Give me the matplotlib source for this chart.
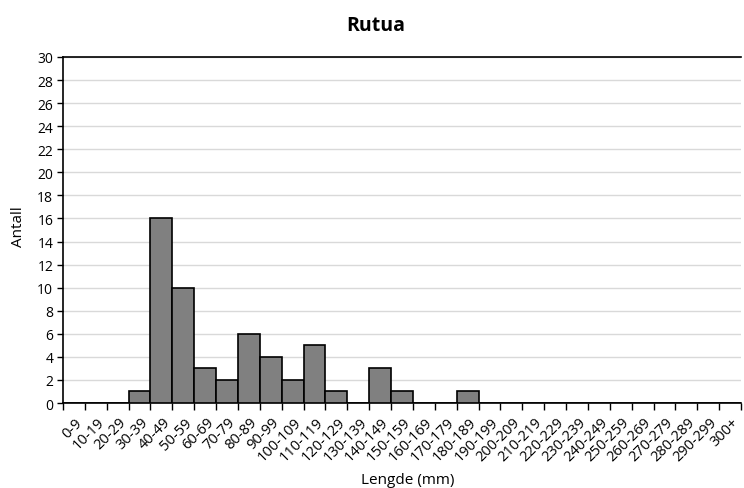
import matplotlib
matplotlib.use('Agg')
import matplotlib.pyplot as plt
import numpy as np

# lengdeklasser (mm)
klasser = ["0-9", "10-19", "20-29", "30-39", "40-49", "50-59", "60-69", "70-79",
           "80-89", "90-99", "100-109", "110-119", "120-129", "130-139", "140-149",
           "150-159", "160-169", "170-179", "180-189", "190-199", "200-209",
           "210-219", "220-229", "230-239", "240-249", "250-259", "260-269",
           "270-279", "280-289", "290-299", "300+"]
antall = [0, 0, 0, 1, 16, 10, 3, 2, 6, 4, 2, 5, 1, 0, 3, 1, 0, 0, 1,
          0, 0, 0, 0, 0, 0, 0, 0, 0, 0, 0, 0]

plt.rcParams['font.family'] = ['Open Sans', 'DejaVu Sans']

fig = plt.figure(figsize=(7.44, 4.89), dpi=100)
ax = fig.add_axes([63/744, 1-404/489, 678/744, 346/489])

x = np.arange(len(klasser))
ax.bar(x, antall, width=1.0, color='#808080', edgecolor='black', linewidth=1.2, zorder=3)

ax.set_xlim(-0.5, len(klasser) - 0.5)
ax.set_ylim(0, 30)
ax.set_yticks(np.arange(0, 31, 2))
ax.yaxis.grid(True, color='#d9d9d9', linewidth=1, zorder=0)
ax.tick_params(axis='y', labelsize=10, length=4, width=1, pad=3)

# ticks at class borders, labels under each class
ax.set_xticks(np.arange(-0.5, len(klasser), 1.0))
ax.set_xticklabels([])
ax.tick_params(axis='x', length=5, width=1)
for i, k in enumerate(klasser):
    ax.text(i + 0.05, -1.0, k, rotation=45, ha='right', va='top',
            rotation_mode='anchor', fontsize=10.5)

ax.spines['right'].set_visible(False)
for s in ['left', 'bottom', 'top']:
    ax.spines[s].set_linewidth(1.2)

fig.text(18/744, 1 - 227/489, 'Antall', rotation=90, ha='center', va='center', fontsize=11)
fig.text(408/744, 1 - 481/489, 'Lengde (mm)', ha='center', va='center', fontsize=11)
fig.text(376/744, 1 - 26/489, 'Rutua', ha='center', va='center',
         fontsize=14, fontweight='bold')

fig.savefig('out.png', dpi=100)
